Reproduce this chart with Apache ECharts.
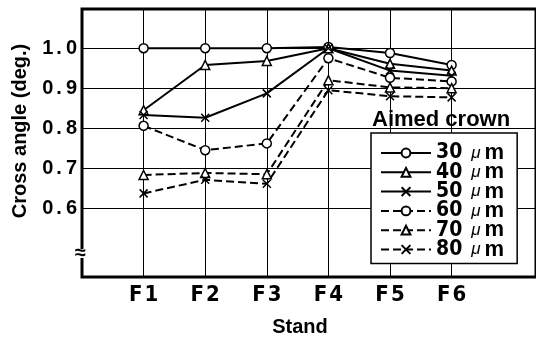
<!DOCTYPE html>
<html>
<head>
<meta charset="utf-8">
<title>Cross angle</title>
<script src="https://cdn.jsdelivr.net/npm/echarts@6/dist/echarts.min.js"></script>
</head>
<body style="margin:0;background:#fff">
<div id="main" style="width:536px;height:342px;"></div>
<script>
// stands and axis ticks
var stands = ['F1', 'F2', 'F3', 'F4', 'F5', 'F6'];
var yTicks = [0.6, 0.7, 0.8, 0.9, 1.0];
var xTicks = [1, 2, 3, 4, 5, 6];

// cross angle (deg.) per aimed crown
var crown30 = [1.0, 1.0, 1.0, 1.003, 0.988, 0.958];
var crown40 = [0.845, 0.958, 0.968, 1.0, 0.961, 0.944];
var crown50 = [0.833, 0.826, 0.887, 1.0, 0.944, 0.931];
var crown60 = [0.806, 0.745, 0.762, 0.975, 0.926, 0.917];
var crown70 = [0.683, 0.688, 0.685, 0.92, 0.902, 0.9];
var crown80 = [0.637, 0.671, 0.661, 0.895, 0.88, 0.877];

var crossPath = 'path://M0,0L10,10M10,0L0,10';
var narrow = '"Liberation Sans Narrow", "DejaVu Sans Condensed", Arial, sans-serif';
var sans = '"Liberation Sans", Arial, Helvetica, sans-serif';

function mk(name, vals, symbol, dashed) {
  var isCross = symbol === crossPath;
  return {
    name: name,
    type: 'line',
    data: vals.map(function (v, i) { return [xTicks[i], v]; }),
    symbol: symbol,
    symbolSize: isCross ? 8 : 9,
    showAllSymbol: true,
    lineStyle: { color: '#000', width: 2, type: dashed ? [8, 4] : 'solid' },
    itemStyle: {
      color: isCross ? '#000' : '#fff',
      borderColor: '#000',
      borderWidth: 1.5
    },
    emphasis: { disabled: true },
    z: 3
  };
}

var myChart = echarts.init(document.getElementById('main'));
myChart.setOption({
  animation: false,
  backgroundColor: '#fff',
  grid: {
    left: 82, top: 9, right: -3, bottom: 60,
    show: true, borderColor: '#000', borderWidth: 3
  },
  legend: {
    orient: 'vertical',
    left: 371, top: 133,
    backgroundColor: '#fff',
    borderColor: '#000',
    borderWidth: 1.5,
    padding: [9, 13, 3, 9],
    itemWidth: 50,
    itemHeight: 11,
    itemGap: -2.7,
    formatter: function (name) {
      var p = name.split(' ');
      return '{n|' + p[0] + '}{mu|μ}{m|m}';
    },
    textStyle: {
      color: '#000',
      lineHeight: 16,
      rich: {
        n: { fontFamily: narrow, fontWeight: 'bold', fontSize: 21, lineHeight: 16, padding: [0, 9, 0, 0] },
        mu: { fontFamily: sans, fontStyle: 'italic', fontSize: 17, lineHeight: 16 },
        m: { fontFamily: sans, fontWeight: 'bold', fontSize: 22, lineHeight: 16, padding: [0, 0, 0, 4] }
      }
    },
    data: ['30 μm', '40 μm', '50 μm', '60 μm', '70 μm', '80 μm']
  },
  xAxis: {
    type: 'value',
    min: 0,
    max: 7.37,
    name: 'Stand',
    nameLocation: 'middle',
    nameGap: 40,
    nameTextStyle: { fontFamily: sans, fontWeight: 'bold', fontSize: 20, color: '#000', padding: [0, 18, 0, 0] },
    axisLine: { show: false },
    axisTick: { show: false, customValues: xTicks },
    axisLabel: {
      customValues: xTicks,
      margin: 7,
      formatter: function (v) { return '{f|F}{n|' + stands[v - 1].slice(1) + '}'; },
      rich: {
        f: { fontFamily: narrow, fontWeight: 'bold', fontSize: 22, color: '#000' },
        n: { fontFamily: narrow, fontWeight: 'bold', fontSize: 22, color: '#000', padding: [0, 0, 0, 2] }
      }
    },
    splitLine: { show: true, lineStyle: { color: '#000', width: 1 } }
  },
  yAxis: {
    type: 'value',
    min: 0.428,
    max: 1.098,
    axisLine: { show: false },
    axisTick: { show: false, customValues: yTicks },
    axisLabel: {
      customValues: yTicks,
      margin: 5,
      formatter: function (v) {
        var s = v.toFixed(1).split('.');
        return '{d|' + s[0] + '}{p|.}{d|' + s[1] + '}';
      },
      rich: {
        d: { fontFamily: sans, fontWeight: 'bold', fontSize: 20, color: '#000' },
        p: { fontFamily: sans, fontWeight: 'bold', fontSize: 20, color: '#000', padding: [0, 4, 0, 3] }
      }
    },
    splitLine: { show: true, lineStyle: { color: '#000', width: 1 } }
  },
  graphic: [
    {
      type: 'text',
      x: 20, y: 131,
      rotation: Math.PI / 2,
      style: {
        text: 'Cross angle (deg.)', fontFamily: sans, fontWeight: 'bold', fontSize: 20,
        fill: '#000', align: 'center', verticalAlign: 'middle'
      },
      z: 10
    },
    {
      type: 'text',
      left: 372, top: 109,
      style: { text: 'Aimed crown', fontFamily: sans, fontWeight: 'bold', fontSize: 22, fill: '#000' },
      z: 10
    },
    {
      type: 'group',
      left: 75, top: 243,
      z: 10,
      children: [
        { type: 'rect', shape: { x: 3, y: 2, width: 9, height: 9 }, style: { fill: '#fff' } },
        { type: 'text', x: 0, y: -4, style: { text: '≈', fontFamily: sans, fontWeight: 'bold', fontSize: 20, fill: '#000' } }
      ]
    }
  ],
  series: [
    mk('30 μm', crown30, 'circle', false),
    mk('40 μm', crown40, 'triangle', false),
    mk('50 μm', crown50, crossPath, false),
    mk('60 μm', crown60, 'circle', true),
    mk('70 μm', crown70, 'triangle', true),
    mk('80 μm', crown80, crossPath, true)
  ]
});
</script>
</body>
</html>
